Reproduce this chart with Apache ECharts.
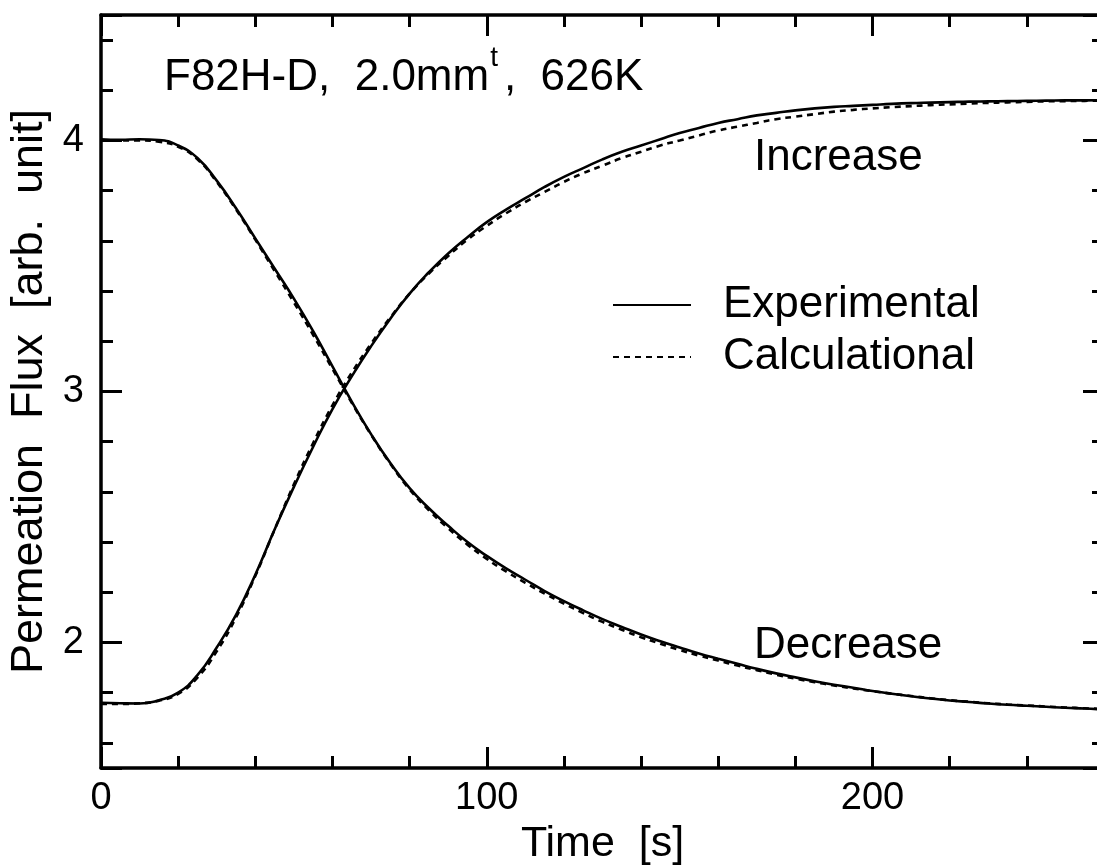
<!DOCTYPE html>
<html>
<head>
<meta charset="utf-8">
<script src="https://cdn.jsdelivr.net/npm/echarts@6/dist/echarts.min.js"></script>
<style>
html,body{margin:0;padding:0;background:#fff;}
#chart{width:1097px;height:865px;}
</style>
</head>
<body>
<div id="chart"></div>
<script>
// ---- data ----
var timeS = [0,5,10,15,20,25,30,35,40,45,50,55,60,65,70,75,80,85,90,95,100,105,110,115,120,125,130,135,140,145,150,155,160,165,170,175,180,185,190,195,200,205,210,215,220,225,230,235,240,245,250,255,260];

var increaseExp = [1.760,1.758,1.757,1.770,1.800,1.870,1.980,2.110,2.270,2.450,2.620,2.780,2.930,3.060,3.180,3.290,3.390,3.475,3.550,3.615,3.675,3.725,3.770,3.815,3.855,3.890,3.925,3.955,3.980,4.005,4.030,4.050,4.070,4.085,4.100,4.110,4.120,4.128,4.134,4.138,4.142,4.146,4.149,4.151,4.153,4.155,4.156,4.157,4.158,4.159,4.160,4.160,4.161];
var increaseCalc = [1.755,1.755,1.758,1.768,1.795,1.860,1.965,2.100,2.265,2.450,2.630,2.795,2.945,3.075,3.190,3.295,3.390,3.470,3.540,3.605,3.660,3.710,3.755,3.795,3.835,3.870,3.900,3.930,3.955,3.980,4.000,4.020,4.040,4.055,4.070,4.085,4.095,4.105,4.115,4.122,4.128,4.133,4.137,4.141,4.144,4.147,4.150,4.152,4.154,4.156,4.157,4.158,4.159];
var decreaseExp = [4.005,4.003,4.005,4.002,3.980,3.930,3.840,3.730,3.610,3.490,3.370,3.240,3.100,2.960,2.830,2.715,2.615,2.535,2.465,2.400,2.345,2.295,2.250,2.205,2.165,2.128,2.093,2.062,2.032,2.005,1.980,1.956,1.935,1.915,1.895,1.877,1.861,1.846,1.832,1.820,1.807,1.796,1.786,1.777,1.769,1.763,1.757,1.752,1.748,1.744,1.740,1.737,1.733];
var decreaseCalc = [4.000,4.000,4.000,3.995,3.975,3.925,3.835,3.725,3.605,3.480,3.355,3.225,3.090,2.955,2.828,2.712,2.610,2.527,2.455,2.390,2.333,2.283,2.238,2.195,2.155,2.117,2.082,2.051,2.021,1.995,1.970,1.948,1.928,1.908,1.890,1.872,1.856,1.842,1.829,1.817,1.806,1.796,1.787,1.778,1.770,1.764,1.758,1.753,1.749,1.745,1.741,1.738,1.735];

var xMajorLabels = [0, 100, 200];
var yMajorLabels = [2, 3, 4];
var seriesNames = ['Experimental', 'Calculational'];
var titleText = ['F82H-D,  2.0mm', 't', ',  626K'];
var curveLabels = ['Increase', 'Decrease'];

function pairs(xs, ys) { return xs.map(function (x, i) { return [x, ys[i]]; }); }

var FONT = "'Liberation Sans', Arial, Helvetica, sans-serif";
var chart = echarts.init(document.getElementById('chart'), null, {renderer: 'canvas'});

function xAx(pos, withLabels) {
  return {
    type: 'value', position: pos, min: 0, max: 260, interval: 100,
    axisLine: {show: true, onZero: false, lineStyle: {color: '#000', width: 3.5}},
    axisTick: {show: true, inside: true, length: 21, lineStyle: {color: '#000', width: 3}},
    minorTick: {show: true, splitNumber: 5, length: 12, lineStyle: {color: '#000', width: 3}},
    splitLine: {show: false}, minorSplitLine: {show: false},
    axisLabel: {show: withLabels, color: '#000', fontFamily: FONT, fontSize: 38, margin: 12,
      formatter: function (v) { return xMajorLabels.indexOf(v) >= 0 ? String(v) : ''; }},
    name: withLabels ? 'Time  [s]' : '', nameLocation: 'middle', nameGap: 42,
    nameTextStyle: {color: '#000', fontFamily: FONT, fontSize: 43}
  };
}
function yAx(pos, withLabels) {
  return {
    type: 'value', position: pos, min: 1.5, max: 4.5, splitNumber: 3, minInterval: 1, maxInterval: 1,
    axisLine: {show: true, onZero: false, lineStyle: {color: '#000', width: 3.5}},
    axisTick: {show: true, inside: true, length: 21, lineStyle: {color: '#000', width: 3}},
    minorTick: {show: true, splitNumber: 5, length: 12, lineStyle: {color: '#000', width: 3}},
    splitLine: {show: false}, minorSplitLine: {show: false},
    axisLabel: {show: withLabels, color: '#000', fontFamily: FONT, fontSize: 38, margin: 17,
      formatter: function (v) { return yMajorLabels.indexOf(v) >= 0 ? String(v) : ''; }},
    name: withLabels ? 'Permeation  Flux  [arb.  unit]' : '', nameLocation: 'middle', nameGap: 48,
    nameTextStyle: {color: '#000', fontFamily: FONT, fontSize: 45}
  };
}

var solid = {color: '#000', width: 2.6, type: 'solid'};
var dashed = {color: '#000', width: 2.6, type: [6, 5]};
function line(name, data, ls, z) {
  return {
    name: name, type: 'line', data: data, xAxisIndex: 0, yAxisIndex: 0,
    symbol: 'none', showSymbol: false, smooth: 0.5,
    lineStyle: ls, itemStyle: {color: '#000'}, z: z, animation: false, silent: true
  };
}

var option = {
  animation: false,
  backgroundColor: '#fff',
  grid: {left: 101, right: -7, top: 15, bottom: 97, containLabel: false, outerBoundsMode: 'none'},
  xAxis: [xAx('bottom', true), xAx('top', false)],
  yAxis: [yAx('left', true), yAx('right', false)],
  legend: {
    orient: 'vertical', left: 607, top: 278, itemWidth: 78, itemHeight: 20, itemGap: 8,
    data: seriesNames, selectedMode: false,
    itemStyle: {opacity: 0, color: 'rgba(0,0,0,0)', borderWidth: 0},
    textStyle: {color: '#000', fontFamily: FONT, fontSize: 44, padding: [0, 0, 0, 27]}
  },
  series: [
    line(seriesNames[1], pairs(timeS, increaseCalc), dashed, 2),
    line(seriesNames[1], pairs(timeS, decreaseCalc), dashed, 2),
    line(seriesNames[0], pairs(timeS, increaseExp), solid, 3),
    line(seriesNames[0], pairs(timeS, decreaseExp), solid, 3)
  ],
  graphic: [
    {type: 'text', left: 164, top: 44, silent: true,
      style: {text: '{a|' + titleText[0] + '}{s|' + titleText[1] + '}{a|' + titleText[2] + '}',
        rich: {a: {fontFamily: FONT, fontSize: 44, fill: '#000', color: '#000'},
               s: {fontFamily: FONT, fontSize: 28, fill: '#000', color: '#000', verticalAlign: 'top', padding: [0, 6, 40, 1]}}}},
    {type: 'text', left: 754, top: 136, silent: true,
      style: {text: curveLabels[0], fontFamily: FONT, fontSize: 44, fill: '#000'}},
    {type: 'text', left: 754, top: 624, silent: true,
      style: {text: curveLabels[1], fontFamily: FONT, fontSize: 44, fill: '#000'}}
  ]
};
chart.setOption(option);
</script>
</body>
</html>
